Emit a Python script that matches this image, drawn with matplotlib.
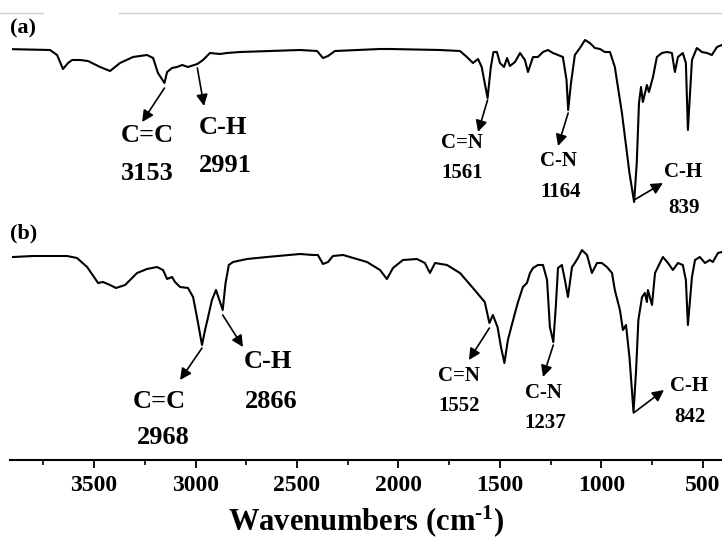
import matplotlib
matplotlib.use("Agg")
import matplotlib.pyplot as plt
from matplotlib.lines import Line2D

plt.rcParams['font.family'] = ['Liberation Serif', 'DejaVu Serif']
plt.rcParams['font.weight'] = 'bold'
plt.rcParams['mathtext.fontset'] = 'custom'
plt.rcParams['mathtext.rm'] = 'Liberation Serif:bold'
plt.rcParams['mathtext.bf'] = 'Liberation Serif:bold'
plt.rcParams['mathtext.it'] = 'Liberation Serif:bold'

# FTIR spectrum (a): wavenumber (cm-1) and transmittance (a.u.)
wn_a = [3899, 3717, 3682, 3653, 3628, 3608, 3569, 3530, 3470, 3421, 3372, 3308,
        3239, 3209, 3185, 3153, 3140, 3116, 3091, 3066, 3037, 2991, 2963, 2929,
        2879, 2845, 2781, 2485, 2401, 2372, 2347, 2313, 2091, 2042, 1796, 1697,
        1663, 1633, 1608, 1590, 1561, 1545, 1532, 1515, 1500, 1480, 1465, 1451,
        1426, 1401, 1377, 1362, 1337, 1313, 1288, 1264, 1239, 1214, 1190, 1172,
        1164, 1150, 1131, 1106, 1081, 1057, 1032, 1007, 983, 958, 934, 899,
        862, 839, 826, 815, 805, 796, 776, 766, 746, 727, 702, 677,
        653, 638, 623, 599, 584, 574, 554, 530, 505, 480, 456, 431, 406]
t_a = [100.4, 100, 97.5, 90.5, 93.5, 95, 95, 94.5, 91.5, 89.5, 93.5, 96.5,
       97.5, 96, 88.5, 83.5, 89, 91, 91.5, 92.5, 91.5, 93, 95, 98.5,
       98, 98.5, 99, 100, 99.5, 96, 97, 99.5, 100.5, 100.5, 100, 99.5,
       96.5, 93.5, 95.5, 91.5, 76, 91.5, 99, 99, 93.5, 91.5, 96, 92,
       94, 98.5, 95, 89, 96.5, 96.5, 99, 100, 98.5, 97.5, 96.5, 85,
       70, 83.5, 97.5, 101, 105, 103.5, 101, 100.5, 99, 99, 91.5, 68.5,
       38.5, 24, 43.5, 73.5, 81.5, 74, 82.5, 79, 86.5, 96.5, 98.5, 99,
       98.5, 89, 96.5, 98.5, 93.5, 60, 95, 101, 99, 98.5, 97.5, 101.5, 102.5]

# FTIR spectrum (b)
wn_b = [3899, 3800, 3633, 3584, 3534, 3480, 3456, 3421, 3392, 3347, 3288, 3239,
        3190, 3160, 3140, 3116, 3101, 3076, 3037, 3012, 2993, 2968, 2953, 2938,
        2919, 2899, 2866, 2852, 2836, 2815, 2746, 2648, 2485, 2421, 2397, 2372,
        2347, 2323, 2273, 2155, 2091, 2057, 2027, 1978, 1909, 1870, 1845, 1820,
        1761, 1697, 1633, 1575, 1552, 1535, 1512, 1495, 1478, 1461, 1426, 1411,
        1387, 1367, 1352, 1337, 1313, 1288, 1268, 1254, 1237, 1225, 1214, 1195,
        1180, 1165, 1145, 1131, 1116, 1096, 1071, 1047, 1022, 998, 973, 948,
        934, 909, 894, 879, 862, 842, 830, 818, 800, 786, 776, 771,
        751, 736, 712, 697, 672, 648, 623, 599, 584, 574, 554, 539,
        515, 490, 466, 451, 426, 406]
t_b = [101.5, 102, 102, 101, 96.5, 88.5, 89, 87.5, 86, 87.5, 93.5, 95.5,
       96.5, 95, 90.5, 91.5, 89, 86.5, 86, 81.5, 71.5, 57.5, 65, 71.5,
       80, 85, 75, 88.5, 97.5, 99, 100.5, 101.5, 103, 102.5, 102.5, 98,
       99, 102, 102.5, 99, 95, 90.5, 96, 100, 100.5, 98.5, 93.5, 98.5,
       97.5, 93.5, 86, 79, 68.5, 72.5, 66.5, 56.5, 48.5, 60, 73.5, 79,
       86.5, 88.5, 93.5, 96, 97.5, 97.5, 90, 66.5, 59, 76.5, 96, 97.5,
       90, 81.5, 96.5, 98.5, 101, 105, 102.5, 93.5, 98.5, 98.5, 96.5, 93.5,
       85, 75, 65, 67.5, 51.5, 24, 43.5, 70, 81.5, 83.5, 79, 85,
       77.5, 93.5, 98.5, 101.5, 98.5, 95, 98.5, 97.5, 90, 67.5, 91.5, 100,
       101.5, 98.5, 100, 99, 103.5, 104]

offset_a = 105

xticks_major = [3500, 3000, 2500, 2000, 1500, 1000, 500]
xticks_minor = [3750, 3250, 2750, 2250, 1750, 1250, 750]

fig = plt.figure(figsize=(7.22, 5.42), dpi=100)
ax = fig.add_axes([10 / 722, 1 - 460 / 542, 712 / 722, 447 / 542])

ax.plot(wn_a, [v + offset_a for v in t_a], color='black', lw=1.5)
ax.plot(wn_b, t_b, color='black', lw=1.5)

ax.set_xlim(3914, 406)
ax.set_ylim(0, 223.5)

for side in ('left', 'right', 'top'):
    ax.spines[side].set_visible(False)
ax.spines['bottom'].set_linewidth(1.5)
ax.set_yticks([])
ax.set_xticks(xticks_major)
ax.set_xticks(xticks_minor, minor=True)
ax.tick_params(axis='x', which='major', direction='out', length=6, width=1.3,
               labelsize=17, pad=5)
ax.tick_params(axis='x', which='minor', direction='out', length=3.5, width=1.2)
for lab in ax.get_xticklabels():
    lab.set_fontweight('bold')
ax.set_xlabel(r'Wavenumbers (cm$^{\text{-1}}$)', fontsize=22, fontweight='bold',
              labelpad=5)

# panel letters
ax.text(3914, 216, '(a)', fontsize=16, fontweight='bold', ha='left', va='center')
ax.text(3914, 113.5, '(b)', fontsize=16, fontweight='bold', ha='left', va='center')

big = 19
small = 15

# band assignments: (text, x, y, size)
labels = [
    ('C=C', 3239, 162.5, big), ('3153', 3239, 143, big),
    ('C-H', 2864, 166.5, big), ('2991', 2855, 147.5, big),
    ('C=N', 1687, 158.5, small), ('1561', 1687, 143.5, small),
    ('C-N', 1214, 149.5, small), ('1164', 1200, 134, small),
    ('C-H', 599, 144, small), ('839', 594, 126, small),
    ('C=C', 3180, 29, big), ('2968', 3160, 11, big),
    ('C-H', 2643, 49.5, big), ('2866', 2628, 29, big),
    ('C=N', 1702, 42, small), ('1552', 1702, 27, small),
    ('C-N', 1288, 33.5, small), ('1237', 1278, 18.5, small),
    ('C-H', 569, 37, small), ('842', 564, 21.5, small),
]
for txt, x, y, s in labels:
    ax.text(x, y, txt, fontsize=s, fontweight='bold', ha='center', va='center')

# arrows: (tail x, tail y, head x, head y)
arrows = [
    (3153, 186, 3263, 169), (2991, 196, 2958, 177),
    (1561, 180, 1608, 164), (1164, 173.5, 1214, 157),
    (839, 130, 697, 138.5),
    (2968, 56, 3076, 40), (2866, 72.5, 2766, 56.5),
    (1552, 66, 1653, 50), (1237, 57.5, 1288, 41.5),
    (842, 23.5, 692, 35),
]
for x0, y0, x1, y1 in arrows:
    ax.annotate('', xy=(x1, y1), xytext=(x0, y0),
                arrowprops=dict(arrowstyle='-|>', color='black', lw=1.2,
                                mutation_scale=17, shrinkA=0, shrinkB=0))

# faint frame line along the top edge
ytop = 1 - 13 / 542
fig.add_artist(Line2D([0, 43 / 722], [ytop, ytop], color='#cccccc', lw=1))
fig.add_artist(Line2D([119 / 722, 1], [ytop, ytop], color='#cccccc', lw=1))

fig.savefig('out.png', dpi=100)
